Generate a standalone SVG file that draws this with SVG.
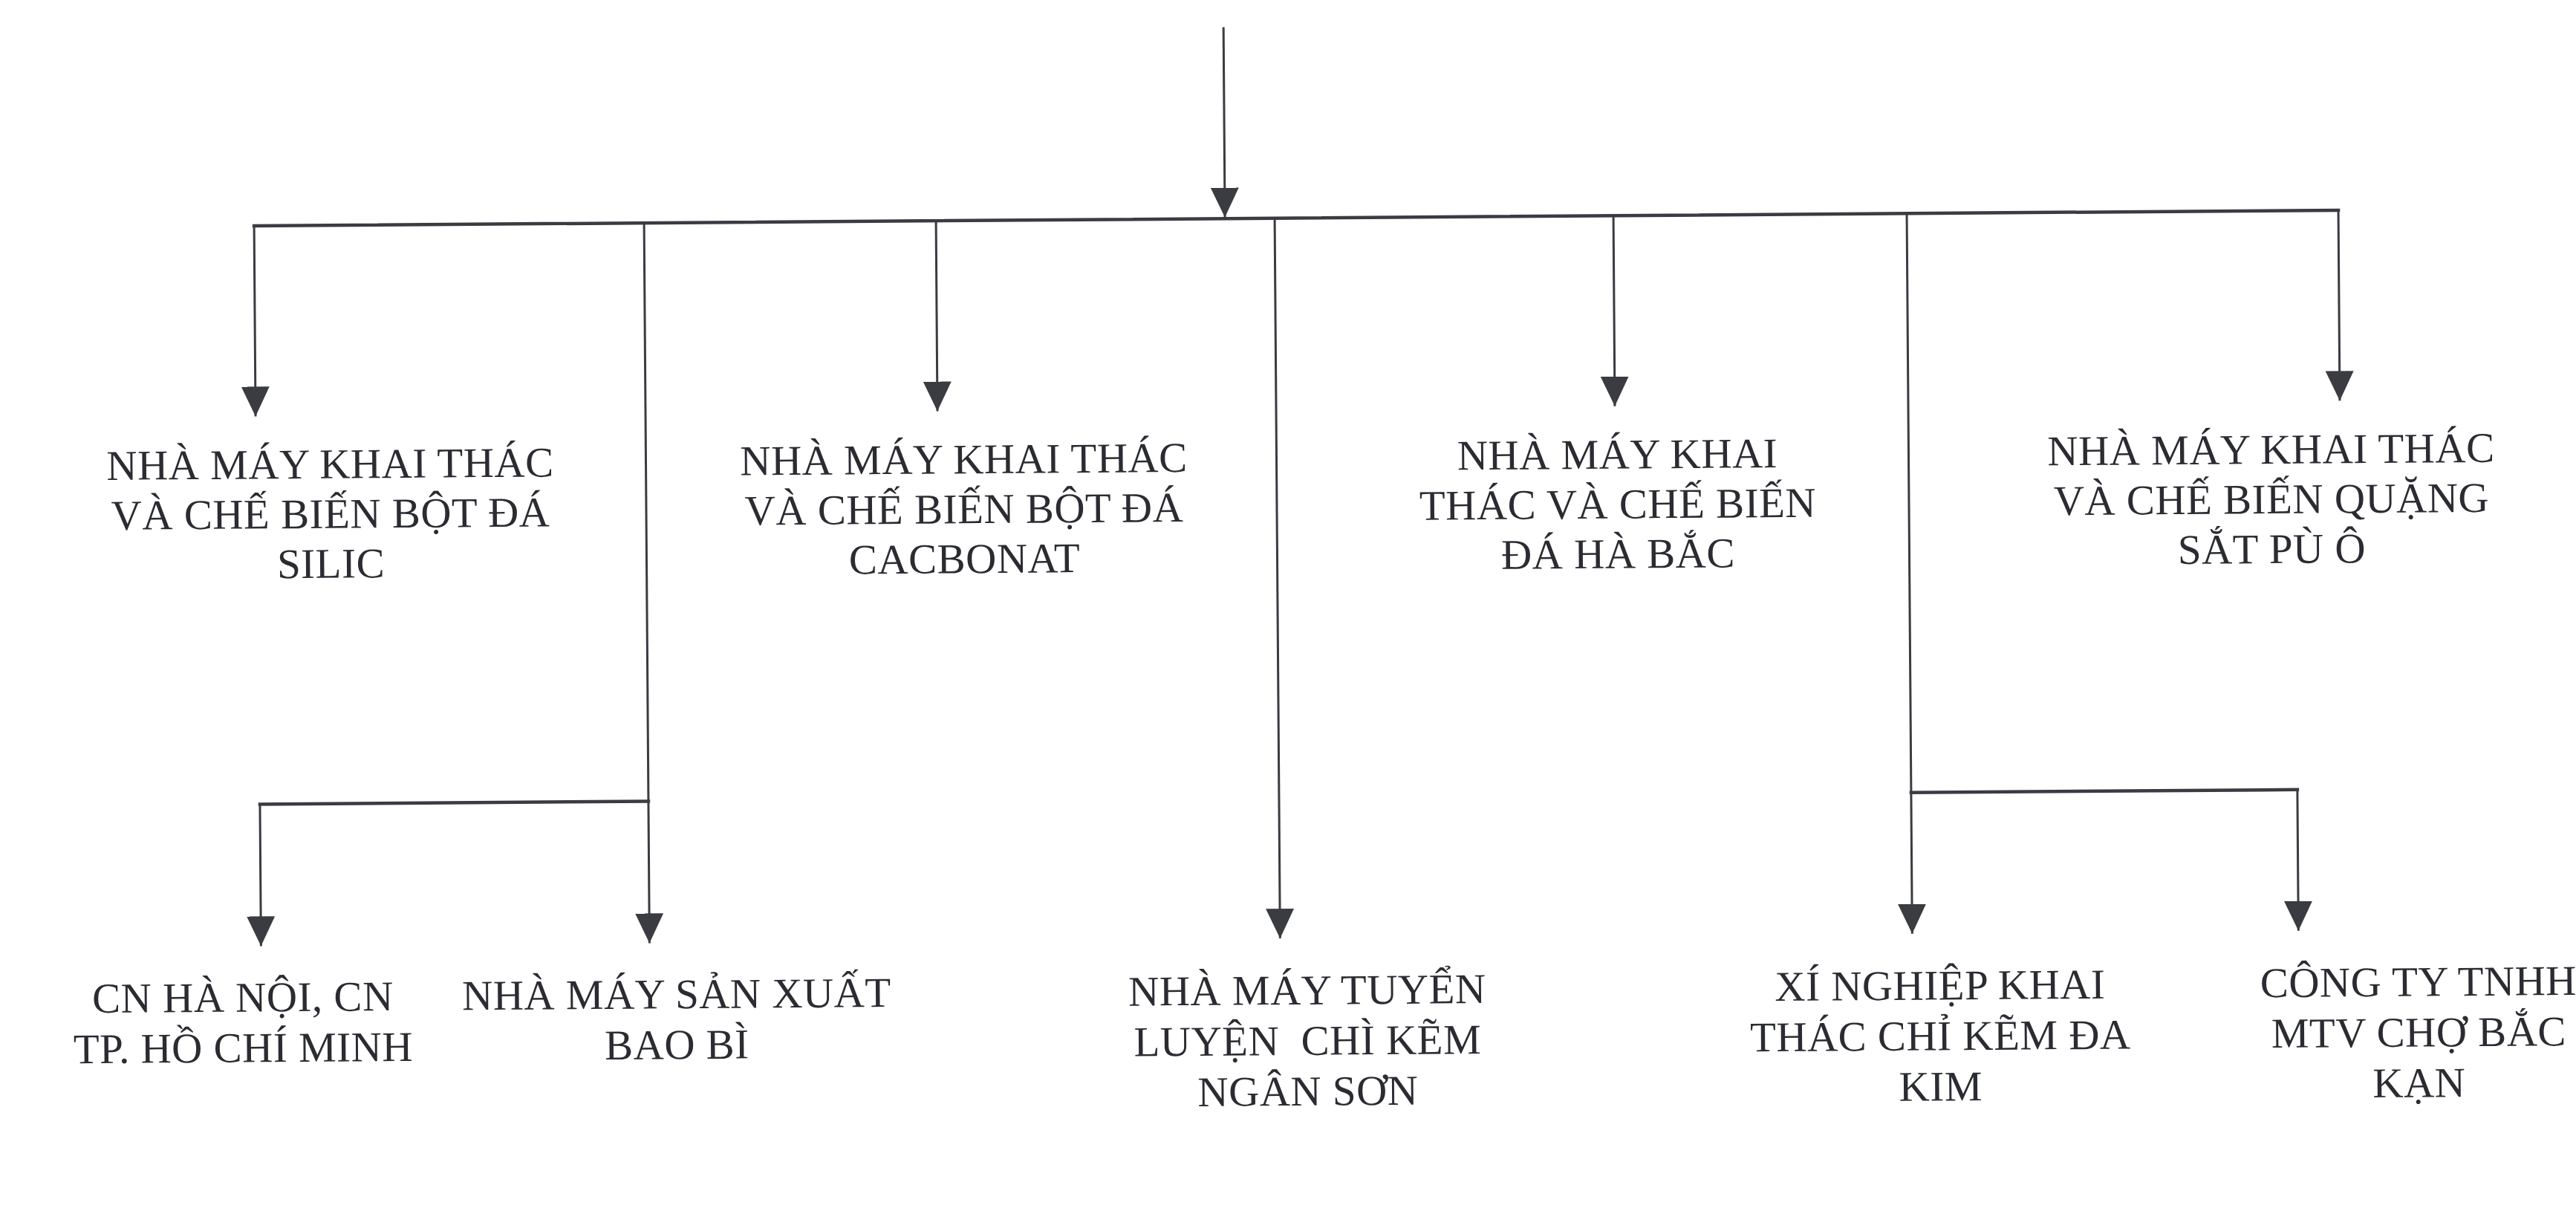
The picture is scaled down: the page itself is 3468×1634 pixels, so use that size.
<svg xmlns="http://www.w3.org/2000/svg" width="3468" height="1634" viewBox="0 0 3468 1634">
<style>
  .bg { fill: #ffffff; }
  .lbl { font-family: "Liberation Serif", "Times New Roman", serif; font-size: 57px; fill: #2a2c32; text-anchor: middle; letter-spacing: 0.5px; }
  .ln { stroke: #3a3c42; stroke-width: 3; fill: none; }
  .bus { stroke: #3a3c42; stroke-width: 4.5; fill: none; stroke-linecap: square; }
</style>
<defs>
  <marker id="arr" viewBox="0 0 40 38" markerWidth="40" markerHeight="38" refX="40" refY="19" orient="auto" markerUnits="userSpaceOnUse">
    <path d="M0,0 L40,19 L0,38 Z" fill="#3a3c42"/>
  </marker>
</defs>
<rect class="bg" x="0" y="0" width="3468" height="1634"/>
<g transform="rotate(-0.43 1734 817)">
  <g id="connectors">
    <path class="ln" d="M1653,36 V292" marker-end="url(#arr)"/>
    <path class="bus" d="M346,293.6 H3152"/>
    <path class="ln" d="M346,293.6 V550" marker-end="url(#arr)"/>
    <path class="ln" d="M871,293.6 V1263" marker-end="url(#arr)"/>
    <path class="bus" d="M871,1072 H348"/>
    <path class="ln" d="M348,1072 V1263" marker-end="url(#arr)"/>
    <path class="ln" d="M1264,293.6 V550" marker-end="url(#arr)"/>
    <path class="ln" d="M1720,293.6 V1263" marker-end="url(#arr)"/>
    <path class="ln" d="M2176,293.6 V550" marker-end="url(#arr)"/>
    <path class="ln" d="M2571,293.6 V1263" marker-end="url(#arr)"/>
    <path class="bus" d="M2571,1073 H3091"/>
    <path class="ln" d="M3091,1073 V1263" marker-end="url(#arr)"/>
    <path class="ln" d="M3152,293.6 V550" marker-end="url(#arr)"/>
  </g>
  <g id="node-silic">
    <text class="lbl"><tspan x="446" y="634">NHÀ MÁY KHAI THÁC</tspan><tspan x="446" y="701">VÀ CHẾ BIẾN BỘT ĐÁ</tspan><tspan x="446" y="768">SILIC</tspan></text>
  </g>
  <g id="node-cacbonat">
    <text class="lbl"><tspan x="1299" y="634">NHÀ MÁY KHAI THÁC</tspan><tspan x="1299" y="701">VÀ CHẾ BIẾN BỘT ĐÁ</tspan><tspan x="1299" y="768">CACBONAT</tspan></text>
  </g>
  <g id="node-habac">
    <text class="lbl"><tspan x="2179" y="634">NHÀ MÁY KHAI</tspan><tspan x="2179" y="701">THÁC VÀ CHẾ BIẾN</tspan><tspan x="2179" y="768">ĐÁ HÀ BẮC</tspan></text>
  </g>
  <g id="node-puo">
    <text class="lbl"><tspan x="3059" y="634">NHÀ MÁY KHAI THÁC</tspan><tspan x="3059" y="701">VÀ CHẾ BIẾN QUẶNG</tspan><tspan x="3059" y="768">SẮT PÙ Ô</tspan></text>
  </g>
  <g id="node-chinhanh">
    <text class="lbl"><tspan x="323" y="1351">CN HÀ NỘI, CN</tspan><tspan x="323" y="1419">TP. HỒ CHÍ MINH</tspan></text>
  </g>
  <g id="node-baobi">
    <text class="lbl"><tspan x="907" y="1351">NHÀ MÁY SẢN XUẤT</tspan><tspan x="907" y="1419">BAO BÌ</tspan></text>
  </g>
  <g id="node-nganson">
    <text class="lbl" xml:space="preserve"><tspan x="1756" y="1352">NHÀ MÁY TUYỂN</tspan><tspan x="1756" y="1420">LUYỆN  CHÌ KẼM</tspan><tspan x="1756" y="1488">NGÂN SƠN</tspan></text>
  </g>
  <g id="node-xinghiep">
    <text class="lbl"><tspan x="2608" y="1352">XÍ NGHIỆP KHAI</tspan><tspan x="2608" y="1420">THÁC CHỈ KẼM ĐA</tspan><tspan x="2608" y="1488">KIM</tspan></text>
  </g>
  <g id="node-chobackan">
    <text class="lbl"><tspan x="3252" y="1352">CÔNG TY TNHH</tspan><tspan x="3252" y="1420">MTV CHỢ BẮC</tspan><tspan x="3252" y="1488">KẠN</tspan></text>
  </g>
</g>
</svg>
